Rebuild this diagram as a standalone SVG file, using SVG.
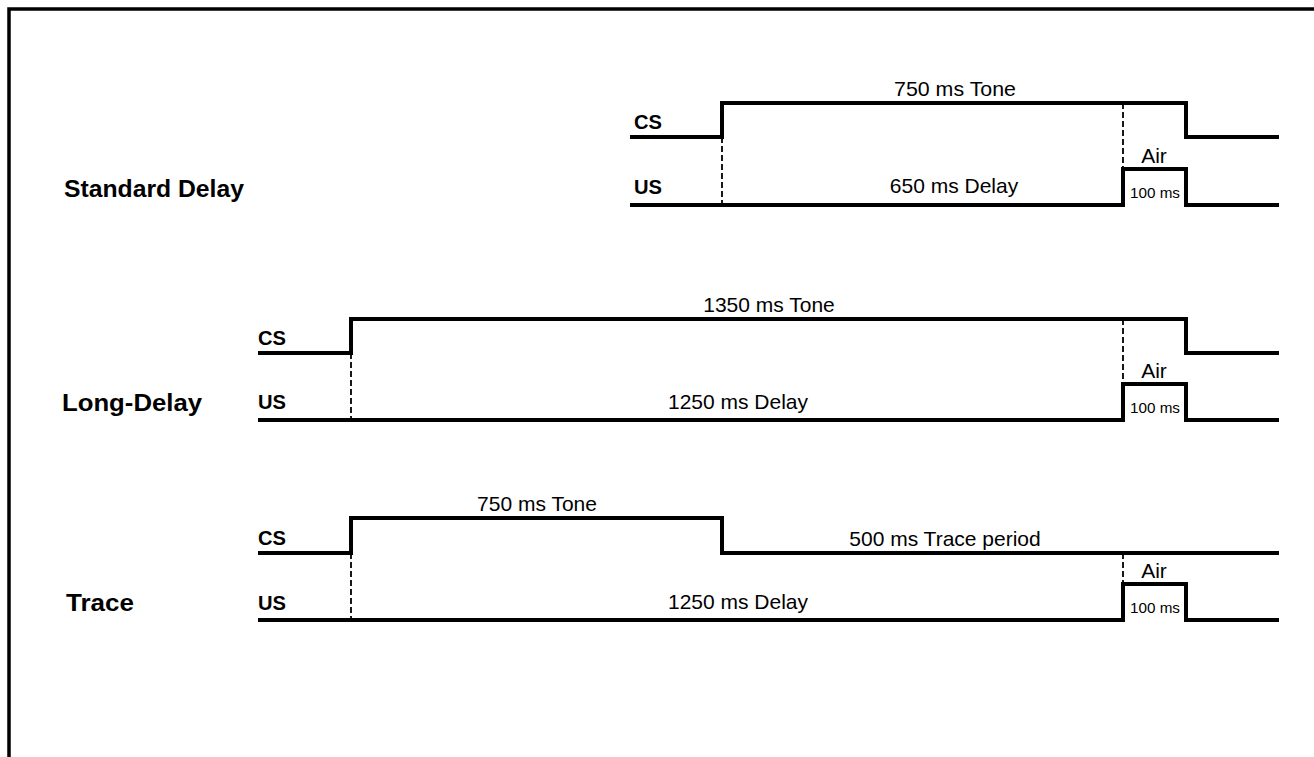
<svg xmlns="http://www.w3.org/2000/svg" width="1314" height="757" viewBox="0 0 1314 757">
<style>
.sig{fill:none;stroke:#000;stroke-width:4;stroke-linejoin:miter}
.dash{fill:none;stroke:#000;stroke-width:1.8;stroke-dasharray:6,3}
.lbl{font-family:"Liberation Sans",Arial,sans-serif;font-size:21px;fill:#000;text-anchor:middle}
.sm{font-family:"Liberation Sans",Arial,sans-serif;font-size:15px;fill:#000;text-anchor:middle}
.ch{font-family:"Liberation Sans",Arial,sans-serif;font-size:20px;font-weight:bold;fill:#000}
.row{font-family:"Liberation Sans",Arial,sans-serif;font-size:23px;font-weight:bold;fill:#000}
</style>
<rect width="1314" height="757" fill="#fff"/>
<path d="M9,757 V9 H1314" fill="none" stroke="#000" stroke-width="3.5"/>

<g id="standard-delay">
<text class="row" x="64" y="197" textLength="180" lengthAdjust="spacingAndGlyphs">Standard Delay</text>
<text class="ch" x="634" y="129" textLength="28" lengthAdjust="spacingAndGlyphs">CS</text>
<text class="ch" x="634" y="194" textLength="28" lengthAdjust="spacingAndGlyphs">US</text>
<text class="lbl" x="955" y="96" textLength="122" lengthAdjust="spacingAndGlyphs">750 ms Tone</text>
<text class="lbl" x="954" y="193">650 ms Delay</text>
<text class="lbl" x="1154" y="163">Air</text>
<text class="sm" x="1155" y="198" textLength="50" lengthAdjust="spacingAndGlyphs">100 ms</text>
</g>
<g id="long-delay">
<text class="row" x="62" y="411" textLength="140" lengthAdjust="spacingAndGlyphs">Long-Delay</text>
<text class="ch" x="258" y="345" textLength="28" lengthAdjust="spacingAndGlyphs">CS</text>
<text class="ch" x="258" y="409" textLength="28" lengthAdjust="spacingAndGlyphs">US</text>
<text class="lbl" x="769" y="312">1350 ms Tone</text>
<text class="lbl" x="738" y="409">1250 ms Delay</text>
<text class="lbl" x="1154" y="378">Air</text>
<text class="sm" x="1155" y="413" textLength="50" lengthAdjust="spacingAndGlyphs">100 ms</text>
</g>
<g id="trace">
<text class="row" x="66" y="611" textLength="68" lengthAdjust="spacingAndGlyphs">Trace</text>
<text class="ch" x="258" y="545" textLength="28" lengthAdjust="spacingAndGlyphs">CS</text>
<text class="ch" x="258" y="610" textLength="28" lengthAdjust="spacingAndGlyphs">US</text>
<text class="lbl" x="537" y="511">750 ms Tone</text>
<text class="lbl" x="945" y="546">500 ms Trace period</text>
<text class="lbl" x="738" y="609">1250 ms Delay</text>
<text class="lbl" x="1154" y="578">Air</text>
<text class="sm" x="1155" y="613" textLength="50" lengthAdjust="spacingAndGlyphs">100 ms</text>
</g>

<g id="connectors">
<path class="sig" d="M630,137 H722 V103 H1186 V137 H1279"/>
<path class="sig" d="M630,205 H1123 V169 H1186 V205 H1279"/>
<path class="dash" d="M722,137 V205"/>
<path class="dash" d="M1123,103 V169"/>

<path class="sig" d="M258,353 H351 V319 H1186 V353 H1279"/>
<path class="sig" d="M258,420 H1123 V384 H1186 V420 H1279"/>
<path class="dash" d="M351,353 V420"/>
<path class="dash" d="M1123,319 V384"/>

<path class="sig" d="M258,553 H351 V518 H722 V553 H1279"/>
<path class="sig" d="M258,620 H1123 V584 H1186 V620 H1279"/>
<path class="dash" d="M351,553 V620"/>
<path class="dash" d="M1123,553 V584"/>
</g>
</svg>
